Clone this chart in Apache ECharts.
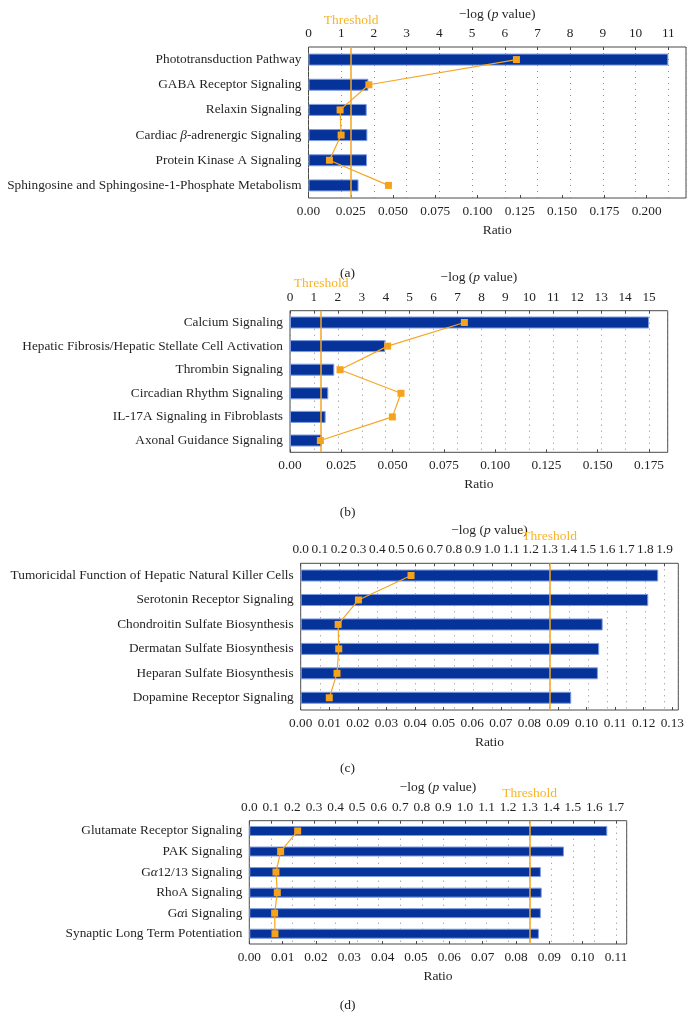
<!DOCTYPE html>
<html>
<head>
<meta charset="utf-8">
<script src="https://cdn.jsdelivr.net/npm/echarts@6/dist/echarts.min.js"></script>
<style>html,body{margin:0;padding:0;background:#fff}#c{width:695px;height:1026px}</style>
</head>
<body>
<div id="c"></div>
<script>
// ---- Data ----
const catsA = ['Phototransduction Pathway','GABA Receptor Signaling','Relaxin Signaling','Cardiac β-adrenergic Signaling','Protein Kinase A Signaling','Sphingosine and Sphingosine-1-Phosphate Metabolism'];
const logpA = [11.0, 1.83, 1.78, 1.80, 1.79, 1.53];
const ratioA = [0.123, 0.0357, 0.0187, 0.0193, 0.0124, 0.0473];

const catsB = ['Calcium Signaling','Hepatic Fibrosis/Hepatic Stellate Cell Activation','Thrombin Signaling','Circadian Rhythm Signaling','IL-17A Signaling in Fibroblasts','Axonal Guidance Signaling'];
const logpB = [15.0, 3.98, 1.85, 1.60, 1.49, 1.33];
const ratioB = [0.0850, 0.0476, 0.0244, 0.0541, 0.0499, 0.0148];

const catsC = ['Tumoricidal Function of Hepatic Natural Killer Cells','Serotonin Receptor Signaling','Chondroitin Sulfate Biosynthesis','Dermatan Sulfate Biosynthesis','Heparan Sulfate Biosynthesis','Dopamine Receptor Signaling'];
const logpC = [1.867, 1.815, 1.577, 1.559, 1.552, 1.413];
const ratioC = [0.0386, 0.0202, 0.0131, 0.0133, 0.0127, 0.0100];

const catsD = ['Glutamate Receptor Signaling','PAK Signaling','Gα12/13 Signaling','RhoA Signaling','Gαi Signaling','Synaptic Long Term Potentiation'];
const logpD = [1.66, 1.459, 1.352, 1.356, 1.352, 1.343];
const ratioD = [0.0145, 0.0094, 0.0080, 0.0084, 0.0076, 0.0077];

const threshold = 1.3;
const captions = ['(a)','(b)','(c)','(d)'];

// ---- Layout ----
const FONT = 'Liberation Serif';
const TXT = '#231f20';
const panels = [
  {cats:catsA, logp:logpA, ratio:ratioA, grid:{left:308.5, top:47, width:377.5, height:151},
   top:{max:11.54, interval:1, dec:0}, bot:{max:0.2233, interval:0.025, dec:3}, barW:12, capTop:261},
  {cats:catsB, logp:logpB, ratio:ratioB, grid:{left:290, top:310.7, width:377.7, height:141.6},
   top:{max:15.78, interval:1, dec:0}, bot:{max:0.1841, interval:0.025, dec:3}, barW:12, capTop:500},
  {cats:catsC, logp:logpC, ratio:ratioC, grid:{left:300.7, top:563.3, width:377.6, height:146.7},
   top:{max:1.972, interval:0.1, dec:1}, bot:{max:0.1321, interval:0.01, dec:2}, barW:12, capTop:756},
  {cats:catsD, logp:logpD, ratio:ratioD, grid:{left:249.3, top:820.7, width:377.4, height:123.3},
   top:{max:1.75, interval:0.1, dec:1}, bot:{max:0.1132, interval:0.01, dec:2}, barW:10, capTop:993}
];

const grids = [], xAxes = [], yAxes = [], series = [], titles = [];
const baseText = {fontFamily:FONT, fontSize:13.3, color:TXT};

panels.forEach((p, i) => {
  grids.push(Object.assign({show:true, borderColor:'#4a4a4a', borderWidth:1, backgroundColor:'transparent'}, p.grid));
  // bottom ratio axis
  xAxes.push({
    type:'value', gridIndex:i, position:'bottom', min:0, max:p.bot.max, interval:p.bot.interval,
    name:'Ratio', nameLocation:'middle', nameGap:25, nameTextStyle:Object.assign({}, baseText, {fontSize:13.5}),
    axisLine:{show:false}, axisTick:{show:true, inside:true, length:3, lineStyle:{color:'#4a4a4a'}},
    splitLine:{show:false},
    axisLabel:Object.assign({}, baseText, {margin:7, showMaxLabel:false,
      formatter: v => v === 0 ? '0.00' : v.toFixed(p.bot.dec)})
  });
  // top -log(p) axis
  xAxes.push({
    type:'value', gridIndex:i, position:'top', min:0, max:p.top.max, interval:p.top.interval,
    name:'{t|−log (}{i|p}{t| value)}', nameLocation:'middle', nameGap:26,
    nameTextStyle:{rich:{t:Object.assign({}, baseText, {fontSize:13.5}), i:Object.assign({}, baseText, {fontSize:13.5, fontStyle:'italic'})}},
    axisLine:{show:false}, axisTick:{show:true, inside:true, length:3, lineStyle:{color:'#4a4a4a'}},
    splitLine:{show:true, lineStyle:{type:[1,5], color:'#8a8a8a', width:1}},
    axisLabel:Object.assign({}, baseText, {margin:7, showMaxLabel:false,
      formatter: v => v.toFixed(p.top.dec)})
  });
  yAxes.push({
    type:'category', gridIndex:i, data:p.cats, inverse:true,
    axisLine:{show:false}, axisTick:{show:false}, splitLine:{show:false},
    axisLabel:Object.assign({}, baseText, {margin:7,
      formatter: v => v.replace(/([αβ])/g, '{i|$1}'),
      rich:{i:Object.assign({}, baseText, {fontStyle:'italic'})}})
  });
  series.push({
    type:'bar', xAxisIndex:2*i+1, yAxisIndex:i, data:p.logp, barWidth:p.barW, z:2,
    itemStyle:{color:'#05339a', borderColor:'#7e9be0', borderWidth:1},
    markLine:{
      silent:true, symbol:['none','none'], animation:false,
      lineStyle:{color:'#f5a623', width:1.5, type:'solid'},
      label:{show:true, position:'start', distance:20, formatter:'Threshold', color:'#f8b429', fontFamily:FONT, fontSize:13.5},
      data:[{xAxis:threshold}]
    }
  });
  series.push({
    type:'line', xAxisIndex:2*i, yAxisIndex:i, data:p.ratio, z:5,
    symbol:'rect', symbolSize:7, showSymbol:true,
    lineStyle:{color:'#f5a623', width:1.2},
    itemStyle:{color:'#f7a21b'}
  });
  titles.push({text:captions[i], left:'center', top:p.capTop,
    textStyle:{fontFamily:FONT, fontSize:13.5, fontWeight:'normal', color:TXT}});
});

const chart = echarts.init(document.getElementById('c'), null, {renderer:'canvas'});
chart.setOption({
  animation:false,
  backgroundColor:'#fff',
  title:titles,
  grid:grids,
  xAxis:xAxes,
  yAxis:yAxes,
  series:series
});
</script>
</body>
</html>
